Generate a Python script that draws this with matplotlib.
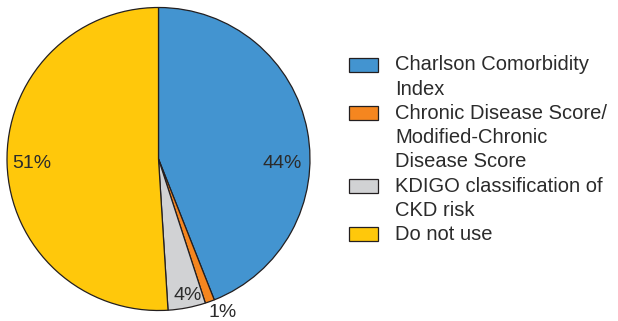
import matplotlib as mpl
import matplotlib.pyplot as plt
from matplotlib.patches import Rectangle

mpl.rcParams['font.family'] = ['Liberation Sans', 'DejaVu Sans']

labels = ['Charlson Comorbidity\nIndex',
          'Chronic Disease Score/\nModified-Chronic\nDisease Score',
          'KDIGO classification of\nCKD risk',
          'Do not use']
shares = [44, 1, 4, 51]
colors = ['#4394D0', '#F5861F', '#D1D2D4', '#FFC80B']

text_color = '#2b2b2b'
edge_color = '#231F20'

W, H = 618, 321
fig = plt.figure(figsize=(W / 100, H / 100), dpi=100)

# pie: centre (158.5, 162) px from bottom-left, radius 151.5 px
cx, cy, r = 158.5, 162, 151.5
ax = fig.add_axes([(cx - r) / W, (cy - r) / H, 2 * r / W, 2 * r / H])
wedges, _, autotexts = ax.pie(
    shares, colors=colors, startangle=90, counterclock=False,
    autopct='%d%%', pctdistance=0.83,
    wedgeprops=dict(edgecolor=edge_color, linewidth=0.9),
    textprops=dict(fontsize=14, color=text_color))
ax.set_xlim(-1, 1)
ax.set_ylim(-1, 1)
ax.set_aspect('equal')

# nudge labels to where they sit on the chart
label_pos = [(0.815, -0.03), (0.42, -1.01), (0.195, -0.9), (-0.835, -0.03)]
for t, (x, y) in zip(autotexts, label_pos):
    t.set_position((x, y))
    t.set_ha('center')
    t.set_va('center')

# legend drawn by hand: box on the first line of each entry
line_h = 24.2
box_x, box_w, box_h = 349, 29, 14
text_x = 395
y = H - 65
for lab, col in zip(labels, colors):
    fig.patches.append(Rectangle((box_x / W, (y - box_h / 2) / H), box_w / W, box_h / H,
                                 transform=fig.transFigure, facecolor=col,
                                 edgecolor=edge_color, linewidth=0.9))
    for i, line in enumerate(lab.split('\n')):
        fig.text(text_x / W, (y - i * line_h) / H, line, fontsize=14.5,
                 color=text_color, ha='left', va='center')
    y -= line_h * (lab.count('\n') + 1)

fig.savefig('out.png', dpi=100)
